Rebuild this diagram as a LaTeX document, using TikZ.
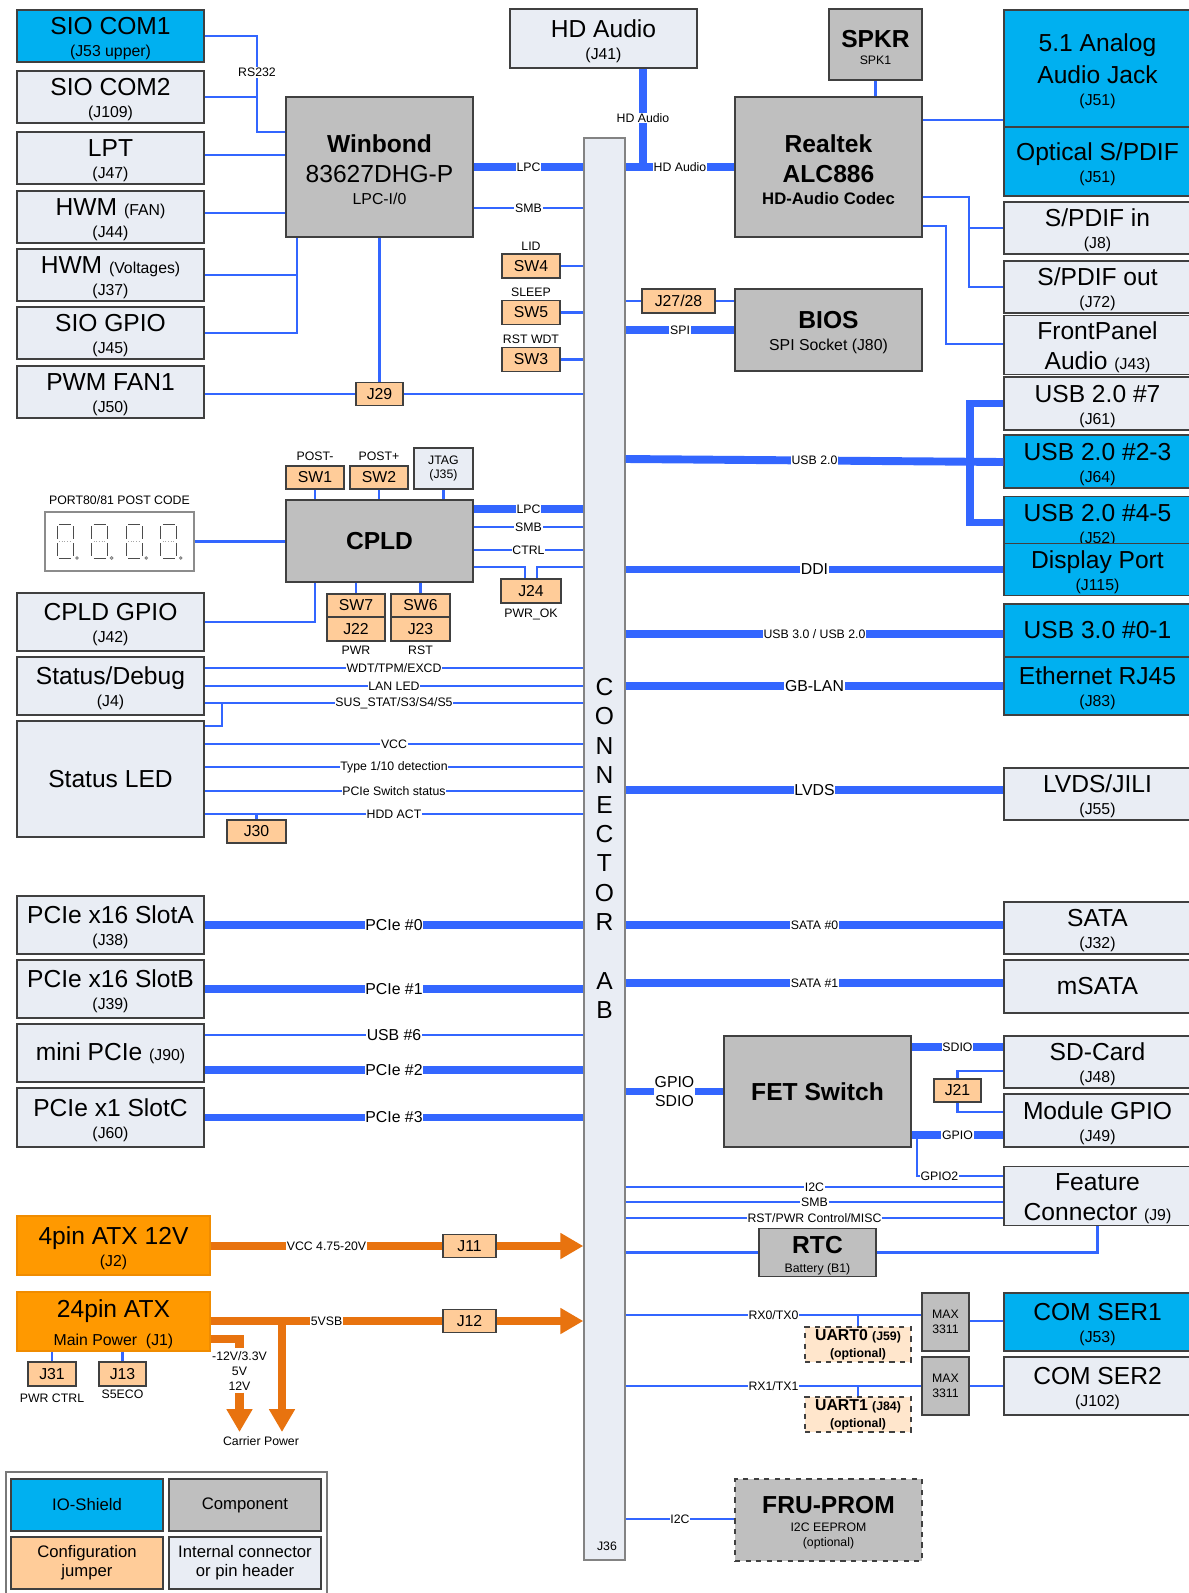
\documentclass[tikz,border=0pt]{standalone}
\usepackage{fontspec}
\setmainfont{Liberation Sans}
\usepackage{tikz}
\usetikzlibrary{positioning}
\usetikzlibrary{arrows.meta}
\usepackage{xcolor}

\definecolor{wire}{HTML}{3366FF}
\definecolor{ioblue}{HTML}{00B0F0}
\definecolor{hdrfill}{HTML}{E9EDF4}
\definecolor{partfill}{HTML}{BFBFBF}
\definecolor{jmpfill}{HTML}{FFCC99}
\definecolor{optfill}{HTML}{FFE6CC}
\definecolor{atxfill}{HTML}{FF9900}
\definecolor{atxedge}{HTML}{F08C00}
\definecolor{pwrline}{HTML}{E8730F}
\definecolor{edge}{HTML}{404040}

\newcommand{\jref}[1]{{\fontsize{9}{10}\selectfont #1}}
\newcommand{\jsm}[1]{{\fontsize{7}{8}\selectfont #1}}
\newcommand{\lift}{\rule{0pt}{13pt}}

\tikzset{
	blk/.style={draw=edge, line width=0.8pt, align=center, inner sep=1pt, font=\fontsize{14}{12.5}\selectfont},
	ioshield/.style={blk, fill=ioblue},
	header/.style={blk, fill=hdrfill},
	part/.style={blk, fill=partfill},
	jumper/.style={blk, fill=jmpfill, font=\fontsize{9}{10}\selectfont},
	optjmp/.style={blk, fill=optfill, dashed, font=\fontsize{9}{9.6}\selectfont\bfseries},
	atx/.style={blk, draw=atxedge, fill=atxfill},
	sz/.style 2 args={minimum width=#1*0.02cm, minimum height=#2*0.02cm},
	bus/.style={draw=wire, line width=4.5pt},
	sig/.style={draw=wire, line width=1.6pt},
	pbus/.style={draw=pwrline, line width=4.6pt},
	parrow/.style={pbus, -{Triangle[length=13pt, width=14pt]}},
	lbl/.style={fill=white, inner sep=0.4pt, font=\fontsize{7}{8}\selectfont},
	lblm/.style={lbl, font=\fontsize{9}{10}\selectfont},
	note/.style={inner sep=0pt, align=center, font=\fontsize{7}{8}\selectfont},
	legendbox/.style={blk, font=\fontsize{9.5}{10.8}\selectfont},
}

\begin{document}
\begin{tikzpicture}[x=0.02cm, y=-0.02cm]
	\fill[white] (0,0) rectangle (1189,1593);
	\useasboundingbox (0,0) rectangle (1189,1593);

	\node[ioshield, sz={187}{52}] (com1) at (110.5,36) {\lift SIO COM1\\\jref{(J53 upper)}};
	\node[header, sz={187}{52}] (com2) at (110.5,97) {\lift SIO COM2\\\jref{(J109)}};
	\node[header, sz={187}{52}] (lpt) at (110.5,158) {\lift LPT\\\jref{(J47)}};
	\node[header, sz={187}{52}] (hwmfan) at (110.5,217) {\lift HWM \jref{(FAN)}\\\jref{(J44)}};
	\node[header, sz={187}{52}] (hwmvolt) at (110.5,275) {\lift HWM \jref{(Voltages)}\\\jref{(J37)}};
	\node[header, sz={187}{52}] (siogpio) at (110.5,333) {\lift SIO GPIO\\\jref{(J45)}};
	\node[header, sz={187}{52}] (pwmfan) at (110.5,392) {\lift PWM FAN1\\\jref{(J50)}};
	\node[header, sz={187}{58}] (cpldgpio) at (110.5,622) {\lift CPLD GPIO\\\jref{(J42)}};
	\node[header, sz={187}{58}] (statdbg) at (110.5,686) {\lift Status/Debug\\\jref{(J4)}};
	\node[header, sz={187}{116}] (statled) at (110.5,779) {Status LED};
	\node[header, sz={187}{58}] (slota) at (110.5,925) {\lift PCIe x16 SlotA\\\jref{(J38)}};
	\node[header, sz={187}{58}] (slotb) at (110.5,989) {\lift PCIe x16 SlotB\\\jref{(J39)}};
	\node[header, sz={187}{58}] (minipcie) at (110.5,1053) {mini PCIe \jref{(J90)}};
	\node[header, sz={187}{59}] (slotc) at (110.5,1117.5) {\lift PCIe x1 SlotC\\\jref{(J60)}};
	\node[atx, sz={193}{59}] (atx4) at (113.5,1245.5) {\lift 4pin ATX 12V\\\jref{(J2)}};
	\node[atx, sz={193}{59}] (atx24) at (113.5,1321.5) {\lift 24pin ATX\\[3.7pt]\jref{Main Power\ \ (J1)}};

	\node[ioshield, sz={187}{117}] (a51) at (1097.5,68.5) {\lift 5.1 Analog\\[3.9pt]Audio Jack\\\jref{(J51)}};
	\node[ioshield, sz={187}{69}] (optical) at (1097.5,161.5) {\lift Optical S/PDIF\\\jref{(J51)}};
	\node[header, sz={187}{52}] (spdin) at (1097.5,228) {\lift S/PDIF in\\\jref{(J8)}};
	\node[header, sz={187}{52}] (spdout) at (1097.5,287) {\lift S/PDIF out\\\jref{(J72)}};
	\node[header, sz={187}{52}] (fpaudio) at (1097.5,345) {\lift FrontPanel\\[4.5pt]Audio \jref{(J43)}};
	\node[header, sz={187}{53}] (usb7) at (1097.5,403.5) {\lift USB 2.0 \#7\\\jref{(J61)}};
	\node[ioshield, sz={187}{53}] (usb23) at (1097.5,461.5) {\lift USB 2.0 \#2-3\\\jref{(J64)}};
	\node[ioshield, sz={187}{47}] (usb45) at (1097.5,522.5) {\lift USB 2.0 \#4-5\\\jref{(J52)}};
	\node[ioshield, sz={187}{47}] (dport) at (1097.5,569.5) {\lift Display Port\\\jref{(J115)}};
	\node[ioshield, sz={187}{53}] (usb30) at (1097.5,630.5) {USB 3.0 \#0-1};
	\node[ioshield, sz={187}{58}] (eth) at (1097.5,686) {\lift Ethernet RJ45\\\jref{(J83)}};
	\node[header, sz={187}{52}] (lvds) at (1097.5,794) {\lift LVDS/JILI\\\jref{(J55)}};
	\node[header, sz={187}{52}] (sata) at (1097.5,928) {\lift SATA\\\jref{(J32)}};
	\node[header, sz={187}{53}] (msata) at (1097.5,986.5) {mSATA};
	\node[header, sz={187}{52}] (sdcard) at (1097.5,1062) {\lift SD-Card\\\jref{(J48)}};
	\node[header, sz={187}{53}] (modgpio) at (1097.5,1120.5) {\lift Module GPIO\\\jref{(J49)}};
	\node[header, sz={187}{52}] (feature) at (1097.5,1196) {\lift Feature\\[4.5pt]Connector \jref{(J9)}};
	\node[ioshield, sz={187}{58}] (ser1) at (1097.5,1322) {\lift COM SER1\\\jref{(J53)}};
	\node[header, sz={187}{58}] (ser2) at (1097.5,1386) {\lift COM SER2\\\jref{(J102)}};

	\node[header, sz={187}{59}] (hdaudio) at (603.5,38.5) {\lift HD Audio\\\jref{(J41)}};
	\node[part, sz={93}{71}] (spkr) at (875.5,44.5) {\lift\textbf{SPKR}\\[-3.2pt]\jsm{SPK1}};
	\node[part, sz={187}{140}] (winbond) at (379.5,167) {\lift\textbf{Winbond}\\[4.5pt]83627DHG-P\\\jref{LPC-I/0}};
	\node[part, sz={187}{140}] (realtek) at (828.5,167) {\lift\textbf{Realtek}\\[4.5pt]\textbf{ALC886}\\{\fontsize{9.5}{10}\selectfont\bfseries HD-Audio Codec}};
	\node[part, sz={187}{82}] (bios) at (828.5,330) {\lift\textbf{BIOS}\\\jref{SPI Socket (J80)}};
	\node[part, sz={187}{82}] (cpld) at (379.5,541) {\textbf{CPLD}};
	\node[part, sz={187}{111}] (fet) at (817.5,1091.5) {\textbf{FET Switch}};
	\node[part, sz={117}{41}] (rtc) at (817.5,1252.5) {\lift\textbf{RTC}\\[-1.7pt]\jsm{Battery (B1)}};
	\node[part, sz={47}{58}, font=\fontsize{7}{8.5}\selectfont] (max1) at (945.5,1322) {MAX\\3311};
	\node[part, sz={47}{58}, font=\fontsize{7}{8.5}\selectfont] (max2) at (945.5,1386) {MAX\\3311};
	\node[part, dashed, sz={187}{82}] (fru) at (828.5,1520) {\lift\textbf{FRU-PROM}\\[-2.3pt]\jsm{I2C EEPROM}\\[-4pt]\jsm{(optional)}};
	\node[header, draw=edge!65, sz={41}{1422}] (conn) at (604.5,849) {};
	\foreach \ch [count=\k from 0] in {C,O,N,N,E,C,T,O,R,{},A,B}
		\node[inner sep=0pt, font=\fontsize{14}{14}\selectfont] (cl\k) at (604.5,687+29.4*\k) {\ch};
	\node[note] (j36txt) at (607,1546) {J36};

	\node[jumper, sz={58}{24}] (sw4) at (531,266) {SW4};
	\node[jumper, sz={58}{24}] (sw5) at (531,312.5) {SW5};
	\node[jumper, sz={58}{24}] (sw3) at (531,359.5) {SW3};
	\node[jumper, sz={73}{24}] (j2728) at (678.5,301) {J27/28};
	\node[jumper, sz={47}{23}] (j29) at (379.5,394) {J29};
	\node[jumper, sz={58}{23}] (sw1) at (315,477.5) {SW1};
	\node[jumper, sz={58}{23}] (sw2) at (379,477.5) {SW2};
	\node[header, sz={59}{41}, font=\fontsize{7}{8.5}\selectfont] (jtag) at (443.5,468.5) {JTAG\\(J35)};
	\node[jumper, sz={58}{23}] (sw7) at (356,605.5) {SW7};
	\node[jumper, sz={58}{24}] (j22) at (356,629) {J22};
	\node[jumper, sz={59}{23}] (sw6) at (420.5,605.5) {SW6};
	\node[jumper, sz={59}{24}] (j23) at (420.5,629) {J23};
	\node[jumper, sz={60}{24}] (j24) at (531,591) {J24};
	\node[jumper, sz={59}{23}] (j30) at (256.5,831.5) {J30};
	\node[jumper, sz={47}{23}] (j21) at (957.5,1090.5) {J21};
	\node[jumper, sz={53}{23}] (j11) at (469.5,1246) {J11};
	\node[jumper, sz={53}{23}] (j12) at (469.5,1321) {J12};
	\node[jumper, sz={48}{24}] (j31) at (52,1374) {J31};
	\node[jumper, sz={47}{24}] (j13) at (122.5,1374) {J13};
	\node[optjmp, sz={106}{35}] (uart0) at (858,1344.5) {UART0 \jsm{(J59)}\\\jsm{(optional)}};
	\node[optjmp, sz={106}{35}] (uart1) at (858,1414.5) {UART1 \jsm{(J84)}\\\jsm{(optional)}};

	\node[draw=edge!60, fill=white, line width=0.8pt, sz={149}{59}] (postbox) at (119.5,541.5) {};
	\foreach \d in {0,...,3} {
		\begin{scope}[shift={(57+34.6*\d,524)}, line width=0.5pt]
			\draw[black!70] (0,2) -- (0,15) (0,19) -- (0,32) (2,34) -- (14,34) (16,19) -- (16,32) (16,2) -- (16,15) (2,0) -- (14,0);
			\draw[black!35, densely dotted] (2,17) -- (14,17);
			\draw[black!50] (20,34) circle[radius=1.3];
		\end{scope}
	}

	\node[note, above=1.6pt of sw4] (lid) {LID};
	\node[note, above=1.6pt of sw5] (sleep) {SLEEP};
	\node[note, above=1.6pt of sw3] (rstwdt) {RST WDT};
	\node[note, above=2.6pt of sw1] (postm) {POST-};
	\node[note, above=2.6pt of sw2] (postp) {POST+};
	\node[note, above=3.5pt of postbox] (posttxt) {PORT80/81 POST CODE};
	\node[note, below=2pt of j22] (pwrtxt) {PWR};
	\node[note, below=2pt of j23] (rsttxt) {RST};
	\node[note, below=2.6pt of j24] (pwrok) {PWR\_OK};
	\node[note, below=3.7pt of j31] (pwrctrl) {PWR CTRL};
	\node[note, below=1.5pt of j13] (s5eco) {S5ECO};
	\node[note] (carrier) at (261,1441) {Carrier Power};
	\node[note, inner sep=1pt, font=\fontsize{7}{8.5}\selectfont] (railtxt) at (239.5,1371) {-12V/3.3V\\5V\\12V};

	\node[draw=edge!70, line width=0.8pt, sz={321}{130}] (legend) at (166.5,1537) {};
	\node[legendbox, fill=ioblue, sz={152}{52}] (lgio) at (87,1505) {IO-Shield};
	\node[legendbox, fill=partfill, sz={152}{52}] (lgpart) at (245,1505) {Component};
	\node[legendbox, fill=jmpfill, sz={152}{52}] (lgjmp) at (87,1563) {Configuration\\jumper};
	\node[legendbox, fill=hdrfill, sz={152}{52}] (lghdr) at (245,1563) {Internal connector\\or pin header};

	\draw[sig] (com1.east) -| node[lbl, pos=0.69] {RS232} (257,132) -- (winbond.west |- 0,132);
	\coordinate (rsj) at (257,97);
	\draw[sig] (com2.east |- rsj) -- (rsj);
	\draw[sig] (lpt.east |- 0,155) -- (winbond.west |- 0,155);
	\draw[sig] (hwmfan.east |- 0,213) -- (winbond.west |- 0,213);
	\coordinate (hwmj) at (297,275);
	\draw[sig] (winbond.south -| hwmj) -- (hwmj |- siogpio.east) -- (siogpio.east);
	\draw[sig] (hwmvolt.east) -- (hwmj);
	\draw[sig] (pwmfan.east |- j29.west) -- (j29.west);
	\draw[sig] (j29.east) -- (conn.west |- j29.east);
	\draw[sig] (winbond.south) -- (j29.north);
	\draw[bus] (winbond.east |- 0,167) -- node[lbl] {LPC} (conn.west |- 0,167);
	\draw[sig] (winbond.east |- 0,208) -- node[lbl] {SMB} (conn.west |- 0,208);

	\coordinate (hdaj) at (643,167);
	\draw[bus] (hdaudio.south -| hdaj) -- node[lbl] {HD Audio} (hdaj);
	\draw[bus] (conn.east |- hdaj) -- node[lbl] {HD Audio} (realtek.west |- hdaj);
	\draw[sig] (spkr.south) -- (spkr.south |- realtek.north);
	\draw[sig] (realtek.east |- 0,120) -- (a51.west |- 0,120);
	\coordinate (spdj) at (969,228);
	\draw[sig] (realtek.east |- 0,197) -| (spdj |- spdout.west) -- (spdout.west);
	\draw[sig] (spdj) -- (spdin.west);
	\draw[sig] (realtek.east |- 0,226) -| (946,344) -- (fpaudio.west |- 0,344);

	\foreach \s in {sw4,sw5,sw3}
		\draw[sig] (\s.east) -- (conn.west |- \s.east);
	\draw[sig] (conn.east |- j2728.west) -- (j2728.west);
	\draw[sig] (j2728.east) -- (bios.west |- j2728.east);
	\draw[bus] (conn.east |- bios.west) -- node[lbl] {SPI} (bios.west);

	\draw[bus] (usb7.west) -| (usb45.west -| 970,0) -- (usb45.west);
	\draw[bus] (conn.east |- 0,459) -- node[lbl] {USB 2.0} (usb23.west |- 0,462);
	\draw[bus] (conn.east |- dport.west) -- node[lblm] {DDI} (dport.west);
	\draw[bus] (conn.east |- 0,634) -- node[lbl] {USB 3.0 / USB 2.0} (usb30.west |- 0,634);
	\draw[bus] (conn.east |- eth.west) -- node[lblm] {GB-LAN} (eth.west);
	\draw[bus] (conn.east |- 0,790) -- node[lblm] {LVDS} (lvds.west |- 0,790);

	\draw[bus] (cpld.east |- 0,509) -- node[lbl] {LPC} (conn.west |- 0,509);
	\draw[sig] (cpld.east |- 0,527) -- node[lbl] {SMB} (conn.west |- 0,527);
	\draw[sig] (cpld.east |- 0,550) -- node[lbl] {CTRL} (conn.west |- 0,550);
	\draw[sig] (cpld.east |- 0,567) -| (j24.north -| 525,0);
	\draw[sig] (j24.north -| 537,0) |- (conn.west |- 0,567);
	\draw[sig] (postbox.east) -- (cpld.west |- postbox.east);
	\foreach \s in {sw1,sw2,jtag}
		\draw[sig] (\s.south) -- (\s.south |- cpld.north);
	\draw[sig] (cpldgpio.east) -| (cpld.south -| sw1.south);
	\foreach \s in {sw7,sw6}
		\draw[sig] (cpld.south -| \s.north) -- (\s.north);

	\draw[sig] (statdbg.east |- 0,668) -- node[lbl] {WDT/TPM/EXCD} (conn.west |- 0,668);
	\draw[sig] (statdbg.east |- 0,686) -- node[lbl] {LAN LED} (conn.west |- 0,686);
	\draw[sig] (statdbg.east |- 0,703) -- node[lbl] {SUS\_STAT/S3/S4/S5} (conn.west |- 0,703);
	\coordinate (susj) at (222,703);
	\draw[sig] (susj) |- (statled.east |- 0,726);
	\draw[sig] (statled.east |- 0,744) -- node[lbl] {VCC} (conn.west |- 0,744);
	\draw[sig] (statled.east |- 0,767) -- node[lbl] {Type 1/10 detection} (conn.west |- 0,767);
	\draw[sig] (statled.east |- 0,791) -- node[lbl] {PCIe Switch status} (conn.west |- 0,791);
	\draw[sig] (statled.east |- 0,814) -- node[lbl] {HDD ACT} (conn.west |- 0,814);
	\coordinate (hddj) at (256.5,814);
	\draw[sig] (hddj) -- (j30.north);

	\draw[bus] (slota.east) -- node[lblm] {PCIe \#0} (conn.west |- slota.east);
	\draw[bus] (slotb.east) -- node[lblm] {PCIe \#1} (conn.west |- slotb.east);
	\draw[sig] (minipcie.east |- 0,1035) -- node[lblm] {USB \#6} (conn.west |- 0,1035);
	\draw[bus] (minipcie.east |- 0,1070) -- node[lblm] {PCIe \#2} (conn.west |- 0,1070);
	\draw[bus] (slotc.east) -- node[lblm] {PCIe \#3} (conn.west |- slotc.east);

	\draw[bus] (conn.east |- 0,925) -- node[lbl] {SATA \#0} (sata.west |- 0,925);
	\draw[bus] (conn.east |- 0,983) -- node[lbl] {SATA \#1} (msata.west |- 0,983);

	\draw[bus] (conn.east |- fet.west) -- node[lblm, align=center, font=\fontsize{9}{11.3}\selectfont] {GPIO\\SDIO} (fet.west);
	\draw[bus] (fet.east |- 0,1047) -- node[lbl] {SDIO} (sdcard.west |- 0,1047);
	\draw[bus] (fet.east |- 0,1135) -- node[lbl] {GPIO} (modgpio.west |- 0,1135);
	\coordinate (gpioj) at (917,1135);
	\draw[sig] (gpioj) |- node[lbl, pos=0.63] {GPIO2} (feature.west |- 0,1176);
	\draw[sig] (sdcard.west |- 0,1071) -| (j21.north);
	\draw[sig] (j21.south) |- (modgpio.west |- 0,1112);
	\draw[sig] (conn.east |- 0,1187) -- node[lbl] {I2C} (feature.west |- 0,1187);
	\draw[sig] (conn.east |- 0,1202) -- node[lbl] {SMB} (feature.west |- 0,1202);
	\draw[sig] (conn.east |- 0,1218) -- node[lbl] {RST/PWR Control/MISC} (feature.west |- 0,1218);
	\draw[sig] (conn.east |- rtc.west) -- (rtc.west);
	\draw[sig] (rtc.east) -| (feature.south);

	\draw[sig] (conn.east |- 0,1315) -- node[lbl] {RX0/TX0} (max1.west |- 0,1315);
	\coordinate (rx0j) at (858,1315);
	\draw[sig] (rx0j) -- (uart0.north);
	\draw[sig] (max1.east |- 0,1321) -- (ser1.west |- 0,1321);
	\draw[sig] (conn.east |- max2.west) -- node[lbl] {RX1/TX1} (max2.west);
	\coordinate (rx1j) at (858,1386);
	\draw[sig] (rx1j) -- (uart1.north);
	\draw[sig] (max2.east) -- (ser2.west |- max2.east);
	\draw[sig] (conn.east |- 0,1519) -- node[lbl] {I2C} (fru.west |- 0,1519);

	\draw[pbus] (atx4.east |- j11.west) -- node[lbl] {VCC 4.75-20V} (j11.west);
	\draw[parrow] (j11.east) -- (conn.west |- j11.east);
	\draw[pbus] (atx24.east |- j12.west) -- node[lbl] {5VSB} (j12.west);
	\draw[parrow] (j12.east) -- (conn.west |- j12.east);
	\coordinate (vsbj) at (282,1321);
	\coordinate (cpwr1) at (282,1432);
	\draw[parrow] (vsbj) -- (cpwr1);
	\coordinate (railtop) at (239.5,1348);
	\draw[pbus] (atx24.east |- 0,1339) -| (railtop);
	\coordinate (cpwr2) at (239.5,1432);
	\draw[parrow] (railtxt.south) -- (cpwr2);
	\draw[sig] (atx24.south -| j31.north) -- (j31.north);
	\draw[sig] (atx24.south -| j13.north) -- (j13.north);
\end{tikzpicture}
\end{document}
